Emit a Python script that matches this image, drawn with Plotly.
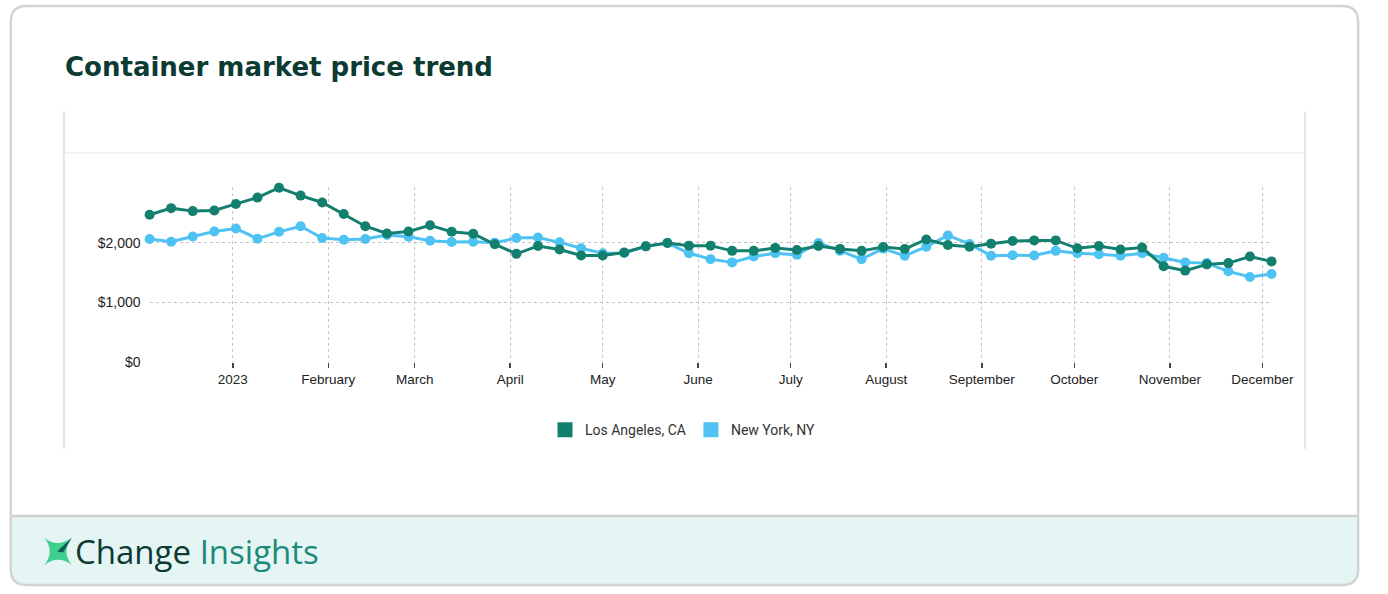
import plotly.graph_objects as go
import pandas as pd

W, H = 1388, 594

# ---------------- data ----------------
dates = pd.date_range("2022-12-05", periods=53, freq="7D")
la_values = [2471, 2582, 2532, 2544, 2653, 2759, 2925, 2793, 2677, 2483, 2278, 2156, 2189,
             2295, 2184, 2151, 1975, 1814, 1947, 1886, 1786, 1786, 1836, 1940, 1997, 1952,
             1952, 1864, 1864, 1914, 1880, 1947, 1897, 1864, 1930, 1894, 2056, 1963, 1935,
             1985, 2030, 2040, 2040, 1907, 1947, 1886, 1919, 1604, 1532, 1637, 1658, 1769, 1687]
ny_values = [2063, 2018, 2106, 2189, 2239, 2068, 2184, 2278, 2079, 2051, 2063, 2130, 2101,
             2035, 2013, 2018, 2002, 2079, 2090, 2007, 1907, 1824, 1830, 1940, 1997, 1824,
             1725, 1670, 1769, 1824, 1797, 1997, 1864, 1725, 1902, 1781, 1935, 2123, 1980,
             1781, 1791, 1786, 1864, 1824, 1808, 1781, 1824, 1748, 1670, 1658, 1520, 1426, 1476]
series_names = ["Los Angeles, CA", "New York, NY"]
month_ticks = ["2023-01-01", "2023-02-01", "2023-03-01", "2023-04-01", "2023-05-01", "2023-06-01",
               "2023-07-01", "2023-08-01", "2023-09-01", "2023-10-01", "2023-11-01", "2023-12-01"]
month_labels = ["2023", "February", "March", "April", "May", "June", "July", "August",
                "September", "October", "November", "December"]
y_ticks = [0, 1000, 2000]
y_labels = ["$0", "$1,000", "$2,000"]
page_title = "Container market price trend"
inner_title = "Container Market Price Trend"

LA_COLOR = "#13806f"
NY_COLOR = "#4ec3f3"
DARK = "#0b3b33"


def P(x, y):
    return x / W, 1 - y / H


def path_from(points_cmds):
    out = []
    for cmd, pts in points_cmds:
        coords = " ".join("%.6f,%.6f" % P(*p) for p in pts)
        out.append(cmd + coords)
    return " ".join(out)


def rounded_rect(x0, y0, x1, y1, r):
    return path_from([
        ("M", [(x0 + r, y0)]), ("L", [(x1 - r, y0)]), ("Q", [(x1, y0), (x1, y0 + r)]),
        ("L", [(x1, y1 - r)]), ("Q", [(x1, y1), (x1 - r, y1)]), ("L", [(x0 + r, y1)]),
        ("Q", [(x0, y1), (x0, y1 - r)]), ("L", [(x0, y0 + r)]), ("Q", [(x0, y0), (x0 + r, y0)]),
    ]) + " Z"


fig = go.Figure()

# main series (NY first so LA draws on top)
fig.add_trace(go.Scatter(x=dates, y=ny_values, mode="lines+markers", name=series_names[1],
                         line=dict(color=NY_COLOR, width=3), marker=dict(color=NY_COLOR, size=10),
                         showlegend=False, cliponaxis=False))
fig.add_trace(go.Scatter(x=dates, y=la_values, mode="lines+markers", name=series_names[0],
                         line=dict(color=LA_COLOR, width=3), marker=dict(color=LA_COLOR, size=10),
                         showlegend=False, cliponaxis=False))
# legend swatches
for nm, col in zip(series_names, [LA_COLOR, NY_COLOR]):
    fig.add_trace(go.Scatter(x=[None], y=[None], mode="markers", name=nm,
                             marker=dict(color=col, size=15, symbol="square"), showlegend=True))

# clipped inner title (only lower part visible, as in the reference)
fig.add_trace(go.Scatter(x=[695], y=[109], mode="text", text=["<b>" + inner_title + "</b>"],
                         textfont=dict(family="Liberation Sans", size=13, color="#222"),
                         xaxis="x2", yaxis="y2", showlegend=False, hoverinfo="skip",
                         cliponaxis=True))

x0, y0, x1, y1, r = 11, 6, 1380, 593, 16
shapes = [
    # footer fill
    dict(type="path", xref="paper", yref="paper", layer="below", line=dict(width=0),
         fillcolor="#e5f5f4",
         path=path_from([("M", [(x0, 523)]), ("L", [(x1, 523)]), ("L", [(x1, y1 - r)]),
                         ("Q", [(x1, y1), (x1 - r, y1)]), ("L", [(x0 + r, y1)]),
                         ("Q", [(x0, y1), (x0, y1 - r)])]) + " Z"),
    # footer separator
    dict(type="line", xref="paper", yref="paper", layer="below",
         x0=P(x0, 523)[0], x1=P(x1, 523)[0], y0=P(0, 523)[1], y1=P(0, 523)[1],
         line=dict(color="#cfcfcf", width=2.5)),
    # card outline
    dict(type="path", xref="paper", yref="paper", layer="below",
         line=dict(color="#d3d3d3", width=2.5), fillcolor="rgba(0,0,0,0)",
         path=rounded_rect(x0, y0, x1, y1, r)),
    # embedded chart frame lines
    dict(type="line", xref="paper", yref="paper", layer="below",
         x0=P(65, 0)[0], x1=P(65, 0)[0], y0=P(0, 113)[1], y1=P(0, 455)[1],
         line=dict(color="#c8c8c8", width=1)),
    dict(type="line", xref="paper", yref="paper", layer="below",
         x0=P(1326, 0)[0], x1=P(1326, 0)[0], y0=P(0, 113)[1], y1=P(0, 455)[1],
         line=dict(color="#c8c8c8", width=1)),
    dict(type="line", xref="paper", yref="paper", layer="below",
         x0=P(65, 0)[0], x1=P(1326, 0)[0], y0=P(0, 155)[1], y1=P(0, 155)[1],
         line=dict(color="#e6e6e6", width=1)),
    # logo: four-pointed star
    dict(type="path", xref="paper", yref="paper", layer="above", line=dict(width=0),
         fillcolor="#3fcf8e",
         path=path_from([("M", [(45, 545)]), ("Q", [(58, 556), (73, 545)]),
                         ("Q", [(62, 559), (73, 573)]), ("Q", [(59, 562), (45, 573)]),
                         ("Q", [(56, 559), (45, 545)])]) + " Z"),
    dict(type="path", xref="paper", yref="paper", layer="above", line=dict(width=0),
         fillcolor="#0e5d51",
         path=path_from([("M", [(58, 559)]), ("L", [(73, 545)]), ("L", [(64, 560)])]) + " Z"),
]

annotations = [
    dict(text="<b>" + page_title + "</b>", xref="paper", yref="paper",
         x=P(64, 0)[0], y=P(0, 68)[1], xanchor="left", yanchor="middle", showarrow=False,
         font=dict(family="DejaVu Sans", size=26, color=DARK)),
    dict(text="<span style='color:%s'>Change</span> <span style='color:#1b8a7b'>Insights</span>" % DARK,
         xref="paper", yref="paper", x=P(74, 0)[0], y=P(0, 559)[1], xanchor="left",
         yanchor="middle", showarrow=False,
         font=dict(family="Open Sans", size=33, color=DARK)),
]

fig.update_layout(
    autosize=True, margin=dict(l=0, r=0, t=0, b=0),
    paper_bgcolor="white", plot_bgcolor="rgba(0,0,0,0)",
    shapes=shapes, annotations=annotations,
    legend=dict(orientation="h", x=P(694, 0)[0], y=P(0, 436)[1], xanchor="center",
                yanchor="middle", font=dict(family="Roboto", size=14, color="#333"),
                bgcolor="rgba(0,0,0,0)", itemclick=False, itemdoubleclick=False),
    xaxis=dict(domain=[P(152, 0)[0], P(1292, 0)[0]], type="date",
               range=[dates[0], dates[-1]], tickvals=month_ticks, ticktext=month_labels,
               ticks="outside", ticklen=5, tickwidth=1.5, tickcolor="#444",
               showgrid=True, gridcolor="#c4c4c4", griddash="dot", gridwidth=1,
               zeroline=False, showline=False,
               tickfont=dict(family="Liberation Sans", size=13.5, color="#222")),
    yaxis=dict(domain=[P(0, 366.7)[1], P(0, 190)[1]], range=[0, 2930],
               tickvals=y_ticks, ticktext=y_labels, ticks="", showgrid=True,
               gridcolor="#c4c4c4", griddash="dot", gridwidth=1, zeroline=False,
               showline=False, ticklabelstandoff=8,
               tickfont=dict(family="Liberation Sans", size=14, color="#222")),
    xaxis2=dict(domain=[P(66, 0)[0], P(1325, 0)[0]], range=[0, W], visible=False,
                anchor="y2", fixedrange=True),
    yaxis2=dict(domain=[P(0, 150)[1], P(0, 113)[1]], range=[150, 113], visible=False,
                anchor="x2", fixedrange=True),
)

fig.write_html(
    "out.html",
    default_width="100vw",
    default_height="100vh",
    config={"displayModeBar": False, "staticPlot": True, "responsive": True},
    post_script=("var s=document.documentElement.style;s.margin='0';s.padding='0';"
                 "s.overflow='hidden';"
                 "var b=document.body.style;b.margin='0';b.padding='0';b.overflow='hidden';"),
)
